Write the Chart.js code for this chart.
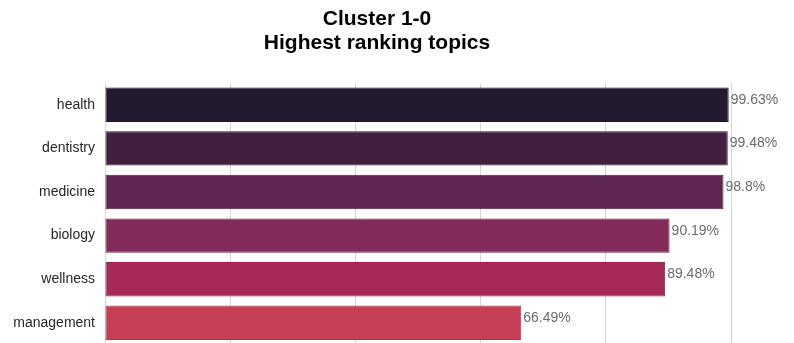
<!DOCTYPE html>
<html>
<head>
<meta charset="utf-8">
<script src="https://cdn.jsdelivr.net/npm/chart.js@4/dist/chart.umd.min.js"></script>
<style>
  html, body { margin: 0; padding: 0; background: #fff; overflow: hidden; }
  #wrap { position: relative; width: 794px; height: 363px; }
</style>
</head>
<body>
<div id="wrap"><canvas id="topicsChart"></canvas></div>
<script>
// Chart data
const titleLines = ['Cluster 1-0', 'Highest ranking topics'];
const topics = ['health', 'dentistry', 'medicine', 'biology', 'wellness', 'management'];
const scores = [99.63, 99.48, 98.8, 90.19, 89.48, 66.49];
const barColors = ['#231a30', '#41203f', '#5e2650', '#832b58', '#a7295a', '#c63e56'];
const edgeColors = ['#1a1226', '#361836', '#521d47', '#76214f', '#9a2051', '#b8344c'];

// draw the two-line title a bit left of the plot centre, like the source
const titlePlugin = {
    id: 'twoLineTitle',
    afterDraw(chart) {
        const ctx = chart.ctx;
        ctx.save();
        ctx.font = 'bold 21px "Liberation Sans", Arial, sans-serif';
        ctx.fillStyle = '#000';
        ctx.textAlign = 'center';
        ctx.textBaseline = 'alphabetic';
        ctx.fillText(titleLines[0], 377, 25);
        ctx.fillText(titleLines[1], 377, 49);
        ctx.restore();
    }
};

// percentage labels at the end of each bar
const valueLabels = {
    id: 'valueLabels',
    afterDatasetsDraw(chart) {
        const ctx = chart.ctx;
        const meta = chart.getDatasetMeta(0);
        ctx.save();
        ctx.font = '14px "Liberation Sans", Arial, sans-serif';
        ctx.fillStyle = '#6a6a6a';
        ctx.textAlign = 'left';
        ctx.textBaseline = 'alphabetic';
        meta.data.forEach((bar, i) => {
            ctx.fillText(scores[i] + '%', bar.x + 2, bar.y - 1);
        });
        ctx.restore();
    }
};

const canvas = document.getElementById('topicsChart');
new Chart(canvas, {
    type: 'bar',
    data: {
        labels: topics,
        datasets: [{
            data: scores,
            backgroundColor: barColors,
            borderColor: edgeColors,
            borderWidth: 1,
            borderSkipped: false,
            barPercentage: 0.79,
            categoryPercentage: 1.0
        }]
    },
    options: {
        indexAxis: 'y',
        responsive: true,
        maintainAspectRatio: false,
        animation: false,
        layout: {
            padding: { top: 83, right: 63, bottom: 0, left: 0 }
        },
        plugins: {
            legend: { display: false },
            title: { display: false },
            tooltip: { enabled: false }
        },
        scales: {
            x: {
                min: 0,
                max: 100,
                ticks: { display: false, stepSize: 20 },
                grid: { color: '#d6d6d6', lineWidth: 1, drawTicks: false },
                border: { display: false },
                afterFit(scale) {
                    scale.height = 0;
                }
            },
            y: {
                grid: { display: false, drawTicks: false },
                border: { display: false },
                ticks: {
                    color: '#262626',
                    padding: 10,
                    font: { family: '"Liberation Sans", Arial, sans-serif', size: 14 }
                },
                afterFit(scale) {
                    scale.width = 105;
                }
            }
        }
    },
    plugins: [titlePlugin, valueLabels]
});
</script>
</body>
</html>
